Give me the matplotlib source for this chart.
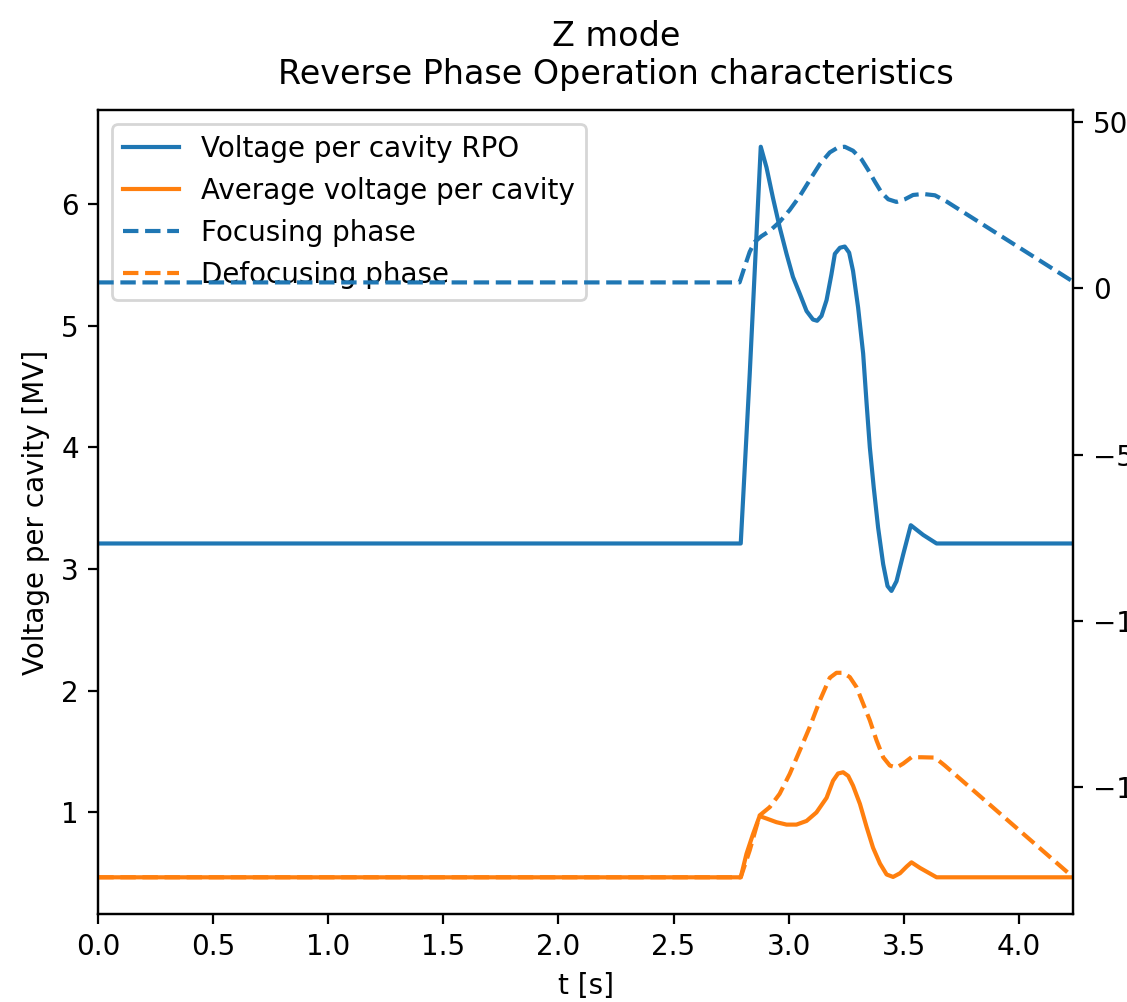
import matplotlib
matplotlib.use("Agg")
import matplotlib.pyplot as plt

# --- data ---
# voltage per cavity, RPO (MV, left axis)
t_rpo = [0.0, 2.792, 2.831, 2.879, 2.904, 2.932, 2.961, 2.991, 3.019, 3.049, 3.078,
         3.106, 3.124, 3.143, 3.165, 3.186, 3.201, 3.223, 3.244, 3.263, 3.280, 3.302,
         3.324, 3.339, 3.353, 3.370, 3.389, 3.411, 3.430, 3.447, 3.469, 3.498, 3.531,
         3.585, 3.643, 4.237]
v_rpo = [3.21, 3.21, 4.60, 6.47, 6.30, 6.05, 5.81, 5.59, 5.40, 5.26, 5.12,
         5.05, 5.04, 5.08, 5.21, 5.42, 5.59, 5.64, 5.65, 5.60, 5.45, 5.15,
         4.77, 4.36, 4.00, 3.67, 3.34, 3.04, 2.86, 2.82, 2.90, 3.12, 3.36,
         3.28, 3.21, 3.21]

# average voltage per cavity (MV, left axis)
t_avg = [0.0, 2.792, 2.817, 2.845, 2.874, 2.904, 2.947, 2.991, 3.034, 3.078, 3.121,
         3.165, 3.193, 3.215, 3.237, 3.259, 3.280, 3.310, 3.339, 3.367, 3.397, 3.426,
         3.454, 3.484, 3.513, 3.534, 3.571, 3.643, 4.237]
v_avg = [0.467, 0.467, 0.66, 0.82, 0.97, 0.95, 0.92, 0.90, 0.90, 0.93, 1.00,
         1.12, 1.26, 1.32, 1.33, 1.30, 1.22, 1.07, 0.88, 0.71, 0.58, 0.49,
         0.47, 0.50, 0.555, 0.59, 0.544, 0.467, 0.467]

# focusing phase (deg, right axis)
t_foc = [0.0, 2.787, 2.809, 2.831, 2.853, 2.882, 2.918, 2.961, 3.005, 3.049, 3.092,
         3.136, 3.179, 3.215, 3.244, 3.280, 3.317, 3.346, 3.375, 3.404, 3.433, 3.469,
         3.505, 3.541, 3.585, 3.636, 3.687, 4.237]
ph_foc = [1.8, 1.8, 6.5, 11.0, 14.0, 15.7, 17.3, 20.0, 23.6, 27.8, 32.6,
          37.4, 40.9, 42.4, 42.6, 41.4, 38.8, 35.6, 32.1, 28.8, 26.8, 26.0,
          26.8, 28.1, 28.4, 28.0, 26.1, 2.0]

# defocusing phase (deg, right axis)
t_defoc = [0.0, 2.792, 2.831, 2.874, 2.918, 2.961, 3.005, 3.049, 3.092, 3.136, 3.179,
           3.208, 3.237, 3.266, 3.295, 3.324, 3.353, 3.382, 3.411, 3.440, 3.469, 3.498,
           3.534, 3.578, 3.636, 3.679, 4.237]
ph_defoc = [-177.1, -177.1, -169.0, -158.5, -156.0, -152.0, -146.0, -138.9, -131.9, -123.9, -117.1,
            -115.6, -115.6, -116.9, -119.9, -124.9, -129.9, -135.9, -141.0, -143.5, -144.1, -142.9,
            -141.0, -141.0, -141.1, -143.5, -177.1]


def main():
    fig = plt.figure(figsize=(5.635, 5.01), dpi=200)
    ax = fig.add_axes([0.0872, 0.088, 0.8651, 0.802])

    l1, = ax.plot(t_rpo, v_rpo, color="C0", label="Voltage per cavity RPO")
    l2, = ax.plot(t_avg, v_avg, color="C1", label="Average voltage per cavity")
    ax.set_xlim(0, t_rpo[-1])
    ax.set_xlabel("t [s]")
    ax.set_ylabel("Voltage per cavity [MV]")

    ax2 = ax.twinx()
    l3, = ax2.plot(t_foc, ph_foc, color="C0", linestyle="--", label="Focusing phase")
    l4, = ax2.plot(t_defoc, ph_defoc, color="C1", linestyle="--", label="Defocusing phase")

    ax.legend(handles=[l1, l2, l3, l4], loc="upper left")
    ax.set_title("Z mode\nReverse Phase Operation characteristics", x=0.531, pad=9.5)

    fig.savefig("out.png", dpi=200)
    plt.close(fig)


if __name__ == "__main__":
    main()
